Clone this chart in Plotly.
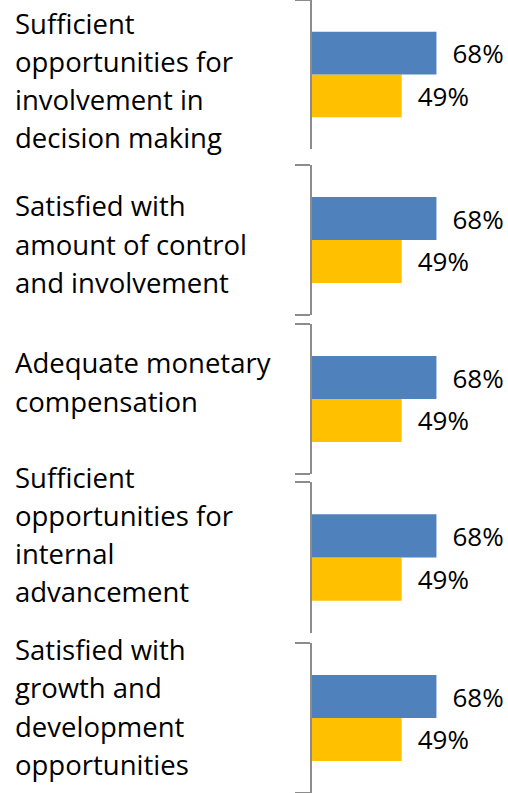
import plotly.graph_objects as go
from plotly.subplots import make_subplots

categories = [
    "Sufficient<br>opportunities for<br>involvement in<br>decision making",
    "Satisfied with<br>amount of control<br>and involvement",
    "Adequate monetary<br>compensation",
    "Sufficient<br>opportunities for<br>internal<br>advancement",
    "Satisfied with<br>growth and<br>development<br>opportunities",
]
series_blue = [68, 68, 68, 68, 68]
series_gold = [49, 49, 49, 49, 49]

BLUE = "#4F81BD"
GOLD = "#FFC000"
AXIS = "#8C8C8C"
FONT = "Open Sans"

W, H = 508, 793
LEFT = 312
# vertical extent of each bracket (pixels from top)
bands = [(0, 149), (165, 315), (324, 474), (482, 633), (643, 793)]
# label block offset from band centre, px downwards
label_off = [6, 4, -17, -23, -11]
LINE_H = 38.3

fig = make_subplots(rows=5, cols=1)

for i, cat in enumerate(categories):
    r = i + 1
    # gold first so it sits below the blue bar
    fig.add_trace(go.Bar(x=[series_gold[i]], y=[cat], orientation="h",
                         marker_color=GOLD, name="Series 2",
                         texttemplate="\u2002%{x}%", textposition="outside"),
                  row=r, col=1)
    fig.add_trace(go.Bar(x=[series_blue[i]], y=[cat], orientation="h",
                         marker_color=BLUE, name="Series 1",
                         texttemplate="\u2002%{x}%", textposition="outside"),
                  row=r, col=1)

fig.update_traces(marker_line_width=0, cliponaxis=False, constraintext="none",
                  textfont=dict(family=FONT, size=26, color="black"))

for i in range(5):
    top, bot = bands[i]
    ya = "yaxis" if i == 0 else f"yaxis{i+1}"
    xa = "xaxis" if i == 0 else f"xaxis{i+1}"
    fig.layout[ya].update(domain=[1 - bot / H, 1 - top / H], type="category",
                          showline=True, linecolor=AXIS, linewidth=2,
                          ticks="outside", tickson="boundaries", ticklen=15,
                          tickwidth=2, tickcolor=AXIS, showticklabels=False,
                          showgrid=False, zeroline=False)
    fig.layout[xa].update(domain=[0, 1], range=[0, 107.1], visible=False)

    lines = categories[i].split("<br>")
    n = len(lines)
    yref = "y domain" if i == 0 else f"y{i+1} domain"
    for j, line in enumerate(lines):
        off = label_off[i] + (j - (n - 1) / 2) * LINE_H
        fig.add_annotation(text=line, xref="paper", yref=yref,
                           x=(13 - LEFT) / (W - LEFT), y=0.5,
                           xanchor="left", yanchor="middle", yshift=-off,
                           showarrow=False, align="left",
                           font=dict(family=FONT, size=27.5, color="black"))

fig.update_layout(
    width=W, height=H,
    margin=dict(l=LEFT, r=0, t=0, b=0, pad=0),
    barmode="group", bargap=0.427, bargroupgap=0,
    showlegend=False,
    plot_bgcolor="white", paper_bgcolor="white",
    font=dict(family=FONT),
)

# page margin off so the figure fills the window
fig.write_html("out.html", config={"displayModeBar": False},
               post_script="document.body.style.margin='0';")
